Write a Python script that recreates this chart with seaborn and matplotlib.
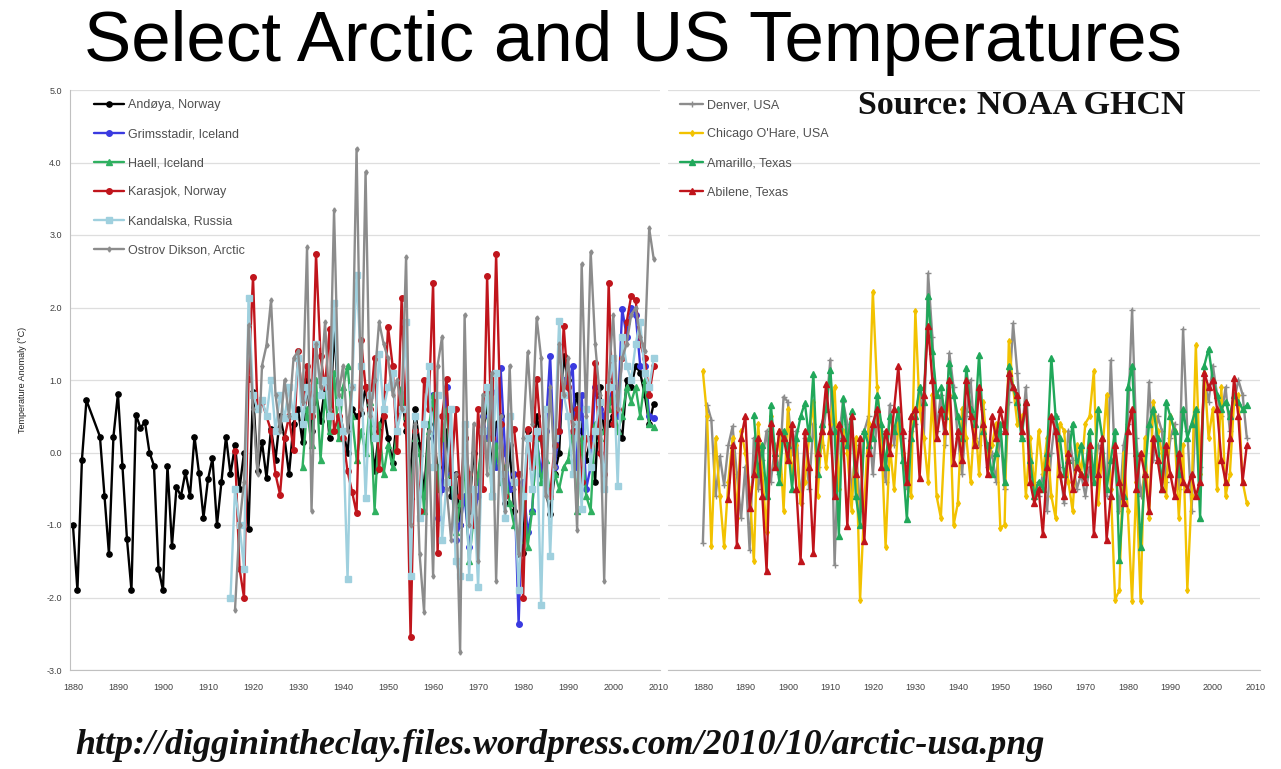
import numpy as np
import pandas as pd
import matplotlib
matplotlib.use("Agg")
import matplotlib.pyplot as plt
import seaborn as sns

# Arctic stations (left panel), anomalies in deg C, first year given separately
andoya_start = 1880
andoya = [-1.0, -1.9, -0.1, 0.72, np.nan, np.nan, 0.22, -0.6, -1.4, 0.22,
          0.81, -0.19, -1.19, -1.9, 0.52, 0.34, 0.42, 0.0, -0.18, -1.6,
          -1.9, -0.18, -1.29, -0.48, -0.6, -0.27, -0.6, 0.22, -0.28, -0.9,
          -0.37, -0.08, -1.0, -0.4, 0.22, -0.3, 0.1, -0.5, 0.0, -1.05,
          0.84, -0.26, 0.14, -0.35, 0.33, -0.1, 0.5, 0.2, -0.3, 0.4,
          0.6, 0.14, 1.0, 0.3, 0.8, 0.44, 0.9, 0.2, 1.72, 0.7,
          0.3, 0.0, 0.6, 0.5, 0.55, 0.9, 0.4, -0.26, 0.3, 0.59,
          0.2, -0.14, 0.5, 0.84, 0.3, -0.3, 0.6, 0.1, -0.6, 0.4,
          0.2, -0.2, -0.5, 0.3, -0.6, -0.3, -1.0, 0.2, -0.8, 0.0,
          -0.5, 0.3, 0.6, -0.2, 0.4, 0.5, -0.7, 0.1, -0.8, -1.4,
          -1.38, 0.3, -0.2, 0.5, 0.2, -0.5, -0.85, -0.3, 0.0, 1.33,
          1.0, 0.5, 0.8, 0.3, -0.1, 0.2, -0.4, 0.9, 0.3, 0.4,
          0.5, 0.3, 0.2, 1.0, 0.9, 1.2, 1.1, 0.8, 0.4, 0.67]

grims_start = 1960
grims = [0.8, -0.9, -0.5, 0.9, -0.3, -1.2, -1.0, -0.6, -1.3, -0.9,
         -0.6, 0.5, 0.2, 0.83, -0.2, 1.17, 0.0, -0.5, -0.3, -2.37,
         -0.4, -1.1, -0.8, 0.2, -0.3, 0.3, 1.33, -0.2, 0.3, 1.0,
         0.9, 1.2, -0.3, 0.8, -0.5, -0.2, 0.9, 0.6, 0.5, 0.7,
         0.9, 0.5, 1.98, 1.6, 2.0, 1.9, 1.2, 1.2, 0.5, 0.48]

haell_start = 1931
haell = [-0.2, 0.6, 0.1, 1.0, -0.1, 0.8, 0.3, 1.1, 0.2,
         0.9, 1.2, 0.5, -0.1, 0.3, 0.0, 0.7, -0.8, 0.4, -0.3,
         0.1, -0.2, 0.3, 0.9, 0.5, -0.6, 0.2, 0.0, -0.8, 0.3,
         0.8, -0.5, 0.2, 0.6, -0.3, -1.1, -0.7, -0.2, -1.5, -0.9,
         -0.3, 0.2, 0.9, -0.6, 0.1, -0.4, -0.2, -0.7, -1.0, -1.2,
         -0.5, -1.3, -0.8, 0.2, -0.4, -0.1, -0.6, -0.3, -0.5, -0.2,
         -0.1, 0.3, -0.8, 0.2, -0.6, -0.8, 0.4, 0.2, 0.3, 0.6,
         0.8, 0.3, 0.5, 0.9, 0.7, 0.9, 0.5, 1.0, 0.4, 0.35]

karasjok_start = 1916
karasjok = [0.02, -1.6, -2.0, 1.02,
            2.42, 0.6, 0.7, 0.5, 0.3, -0.3, -0.58, 0.2, 0.5, 0.03,
            1.4, 0.7, 1.2, 0.5, 2.74, 1.33, 0.9, 1.7, 0.3, 0.5,
            0.2, -0.26, -0.54, -0.84, 1.55, 0.9, 0.6, 1.3, -0.23, 0.5,
            1.73, 1.2, 0.02, 2.13, 0.4, -2.55, 0.3, -0.8, 1.0, 0.6,
            2.34, -1.38, 0.5, 1.01, -0.4, 0.6, -0.6, 0.2, -0.3, -1.0,
            0.6, -0.5, 2.43, 0.2, 2.74, 0.4, -0.6, 0.3, 0.32, -0.3,
            -2.0, 0.32, -0.2, 1.01, 0.2, -0.5, -0.6, 0.1, 0.3, 1.75,
            0.9, 0.3, 0.6, -0.4, 0.2, 0.1, 1.24, 0.0, -0.3, 2.34,
            0.4, 0.6, 1.3, 1.8, 2.16, 2.1, 1.5, 1.3, 0.8, 1.2]

kandal_start = 1915
kandal = [-2.01, -0.5, -1.0, -1.6, 2.13,
          0.8, 0.6, 0.73, 0.5, 1.0, 0.3, 0.8, 0.47, 0.9, 0.5,
          1.3, 0.4, 0.9, 0.6, 1.5, 0.8, 1.0, 0.5, 2.06, 0.7,
          0.3, -1.75, 0.9, 2.45, 1.2, -0.63, 0.8, 0.2, 1.36, 0.6,
          0.9, 1.1, 0.3, 0.6, 1.8, -1.71, 0.5, -0.9, 0.4, 1.19,
          -0.2, 0.8, -1.2, -0.4, 0.6, -1.5, -1.7, 0.4, -1.72, -0.5,
          -1.86, 0.3, 0.9, -0.6, 1.1, -0.3, -0.9, 0.5, -0.4, -1.9,
          -0.6, 0.2, -0.5, 0.3, -2.11, 0.6, -1.43, 0.2, 1.82, 0.8,
          0.5, -0.3, 0.4, -0.78, 0.6, -0.2, 0.3, 0.7, -0.5, 0.9,
          1.3, -0.46, 1.6, 1.2, 1.0, 1.5, 1.8, 1.1, 0.9, 1.3]

dikson_start = 1916
dikson = [-2.17, -1.0, -0.4, 1.76,
          0.6, -0.3, 1.2, 1.48, 2.1, 0.8, 0.3, 1.0, 0.5, 1.3,
          1.4, 0.7, 2.83, -0.8, 1.5, 0.9, 1.8, 0.6, 3.34, 0.8,
          1.2, 0.3, 0.9, 4.19, 0.6, 3.87, 0.5, 1.0, 1.8, 1.5,
          1.3, 0.8, 1.0, 0.6, 2.7, -1.0, 0.4, -1.4, -2.2, 0.3,
          -1.7, 1.2, 1.6, -0.5, -1.2, -0.3, -2.75, 1.9, -1.0, 0.4,
          -1.5, 0.8, -0.3, 1.1, -1.77, 0.5, -0.8, 1.2, -0.5, -1.4,
          0.2, 1.38, 0.4, 1.86, 1.3, -0.6, 0.9, -0.2, 1.5, 0.8,
          1.3, 0.4, -1.07, 2.6, 0.5, 2.77, 1.5, 0.8, -1.77, 1.0,
          1.9, 0.6, 1.3, 1.5, 1.9, 2.0, 1.6, 1.4, 3.09, 2.67]

# US stations (right panel)
denver_start = 1880
denver = [-1.25, 0.66, 0.45, -0.6, -0.05, -0.45, 0.1, 0.36, -0.3, -0.9,
          -0.2, -1.34, 0.2, -0.5, -0.1, 0.3, -0.4, 0.1, -0.3, 0.77,
          0.7, 0.0, 0.3, -0.7, 0.2, -0.5, 0.4, -0.2, 0.1, 0.6,
          1.28, -1.55, 0.2, 0.7, 0.4, -0.6, 0.1, -0.8, 0.3, 0.5,
          -0.3, 0.5, 0.3, -0.4, 0.66, 0.1, 0.6, 0.2, -0.5, 0.3,
          0.4, 0.9, 0.2, 2.47, 1.6, 0.3, 0.8, 0.1, 1.37, 0.9,
          0.2, -0.3, 0.5, 1.0, 0.2, 0.1, 0.6, -0.2, 0.0, -0.4,
          0.3, -0.5, 0.7, 1.78, 1.1, 0.2, 0.9, 0.0, -0.4, -0.6,
          -0.3, -0.8, 0.0, 0.5, -0.2, -0.7, 0.3, -0.1, -0.5, -0.3,
          -0.6, -0.2, -0.4, 0.1, 0.0, -0.6, 1.27, -0.2, -0.8, 0.1,
          0.4, 1.97, 0.2, -0.6, -0.3, 0.97, -0.1, 0.5, 0.3, -0.4,
          0.2, 0.4, -0.5, 1.7, 0.3, -0.8, 0.6, -0.2, 1.0, 0.7,
          1.2, 0.8, 0.5, 0.9, 0.3, 0.7, 1.0, 0.8, 0.2]

chicago_start = 1880
chicago = [1.12, 0.5, -1.29, 0.2, -0.6, -1.29, -0.4, 0.2, -0.9, 0.3,
           0.0, -0.5, -1.5, 0.4, -0.3, -1.1, 0.5, -0.2, 0.3, -0.8,
           0.6, -0.3, 0.1, -0.7, -0.4, 0.2, 0.7, -0.6, 0.3, -0.2,
           0.4, 0.9, -0.5, 0.3, 0.0, -0.8, 0.2, -2.03, -0.7, 0.4,
           2.22, 0.9, 0.2, -1.3, 0.1, -0.5, 0.4, 0.0, -0.3, -0.6,
           1.95, 0.6, 0.2, -0.4, 0.8, -0.6, -0.9, 0.3, 0.8, -1.0,
           -0.7, 0.6, 0.2, -0.4, 0.5, -0.3, 0.7, -0.2, 0.1, 0.4,
           -1.04, -1.0, 1.54, 0.9, 0.4, 0.5, -0.6, 0.2, -0.5, 0.3,
           -0.3, 0.2, -0.6, -0.9, 0.4, 0.3, -0.4, -0.8, 0.1, -0.3,
           0.4, 0.5, 1.12, -0.7, 0.0, 0.8, -0.5, -2.03, -1.9, 0.0,
           -0.8, -2.05, -0.4, -2.05, 0.2, -0.9, 0.7, 0.3, 0.0, -0.6,
           0.5, 0.3, -0.9, 0.1, -1.89, -0.6, 1.48, -0.3, 1.1, 0.2,
           0.6, -0.5, 0.9, -0.6, -0.3, 0.7, 0.8, -0.4, -0.7]

amarillo_start = 1892
amarillo = [0.52, -0.3, 0.1, -0.6, 0.66, 0.0, -0.4, 0.3,
            0.1, -0.5, 0.2, 0.5, 0.68, 0.2, 1.08, -0.3, 0.4, 0.6,
            1.14, 0.3, -1.15, 0.75, 0.1, 0.57, -0.6, -1.0, 0.3, 0.1,
            0.2, 0.8, 0.4, -0.2, 0.5, 0.3, 0.6, -0.1, -0.92, 0.2,
            0.5, 0.9, 0.7, 2.16, 1.4, 0.8, 0.9, 0.5, 1.24, 0.8,
            0.5, 0.2, 1.17, 0.6, 0.4, 1.35, 0.3, 0.1, -0.3, 0.0,
            0.4, -0.4, 1.2, 0.9, 0.7, 0.2, 0.7, -0.1, -0.6, -0.4,
            -0.5, 0.0, 1.31, 0.5, 0.2, -0.3, -0.1, 0.4, -0.2, 0.1,
            -0.3, 0.3, -0.4, 0.6, 0.2, -0.5, -0.1, 0.3, -1.48, -0.6,
            0.9, 1.2, 0.0, -1.31, -0.3, 0.4, 0.6, 0.2, -0.5, 0.7,
            0.5, 0.3, -0.3, 0.6, 0.2, 0.4, 0.6, -0.9, 1.2, 1.43,
            1.0, 0.8, 0.6, 0.7, 0.5, 0.8, 0.7, 0.6, 0.65]

abilene_start = 1886
abilene = [-0.64, 0.1, -1.27, 0.2,
           0.5, -0.76, -0.3, 0.2, -0.6, -1.64, 0.41, -0.2, 0.3, 0.2,
           -0.1, 0.4, -0.5, -1.5, 0.3, -0.2, -1.38, 0.0, 0.3, 0.94,
           0.3, -0.6, 0.4, 0.2, -1.02, 0.5, -0.3, 0.2, -1.22, 0.0,
           0.4, 0.6, -0.2, 0.3, 0.0, 0.6, 1.19, 0.3, -0.4, 0.5,
           0.6, -0.35, 0.8, 1.74, 1.0, 0.2, 0.6, 0.3, 1.0, -0.14,
           0.3, -0.1, 1.0, 0.5, 0.1, 0.9, 0.4, -0.3, 0.5, 0.2,
           0.6, 0.3, 1.1, 0.9, 0.8, 0.3, 0.7, -0.4, -0.7, -0.5,
           -1.13, -0.2, 0.5, 0.3, -0.3, -0.6, 0.0, -0.5, -0.2, -0.3,
           -0.4, 0.1, -1.12, -0.3, 0.2, -1.2, -0.6, 0.1, -0.4, -0.7,
           0.3, 0.6, -0.5, 0.0, -0.3, -0.8, 0.2, -0.1, -0.5, 0.1,
           -0.3, -0.6, 0.0, -0.4, -0.5, -0.3, -0.6, -0.4, 1.1, 0.9,
           1.0, 0.6, -0.1, -0.4, 0.2, 1.03, 0.5, -0.4, 0.1]

year_ticks = list(range(1880, 2011, 10))
y_ticks = [5.0, 4.0, 3.0, 2.0, 1.0, 0.0, -1.0, -2.0, -3.0]

# (label, start, values, colour, marker, markersize)
left_series = [
    ("Andøya, Norway", andoya_start, andoya, "#000000", "o", 3.8),
    ("Grimsstadir, Iceland", grims_start, grims, "#3a3ae0", "o", 4.0),
    ("Haell, Iceland", haell_start, haell, "#2fb060", "^", 3.8),
    ("Karasjok, Norway", karasjok_start, karasjok, "#c0151c", "o", 4.0),
    ("Kandalska, Russia", kandal_start, kandal, "#9fd0de", "s", 3.8),
    ("Ostrov Dikson, Arctic", dikson_start, dikson, "#8c8c8c", "d", 2.6),
]
right_series = [
    ("Denver, USA", denver_start, denver, "#8c8c8c", "+", 4.0),
    ("Chicago O'Hare, USA", chicago_start, chicago, "#f2c200", "d", 3.0),
    ("Amarillo, Texas", amarillo_start, amarillo, "#20a85a", "^", 3.8),
    ("Abilene, Texas", abilene_start, abilene, "#c0141b", "^", 3.8),
]

sns.set_style("white")
plt.rcParams['font.family'] = ['Liberation Sans', 'DejaVu Sans']

fig = plt.figure(figsize=(12.81, 7.69), dpi=100)
ax1 = fig.add_axes([70 / 1281, 1 - 670 / 769, 590 / 1281, 580 / 769])
ax2 = fig.add_axes([668 / 1281, 1 - 670 / 769, 592 / 1281, 580 / 769])


def draw(ax, series):
    for label, start, vals, col, mk, ms in series:
        df = pd.DataFrame({"year": start + np.arange(len(vals)), "anom": vals})
        sns.lineplot(data=df, x="year", y="anom", ax=ax, color=col, lw=1.7,
                     marker=mk, markersize=ms, markeredgecolor=col,
                     markeredgewidth=1.0, label=label, errorbar=None,
                     estimator=None)


draw(ax1, left_series)
draw(ax2, right_series)

for ax in (ax1, ax2):
    ax.set_ylim(-3.0, 5.0)
    ax.set_yticks(y_ticks)
    ax.yaxis.grid(True, color="#dedede", lw=0.9)
    ax.set_axisbelow(True)
    ax.set_xticks(year_ticks)
    ax.set_xticklabels([str(y) for y in year_ticks], fontsize=6.5, color="#404040")
    ax.tick_params(axis="x", length=3, color="#c0c0c0", pad=6)
    ax.set_xlabel("")
    ax.set_ylabel("")
    for s in ("top", "right"):
        ax.spines[s].set_visible(False)
    ax.spines["bottom"].set_color("#c0c0c0")

ax1.set_xlim(1879.35, 2010.4)
ax2.set_xlim(1871.8, 2011.1)

ax1.set_yticklabels([f"{v:.1f}" for v in y_ticks], fontsize=6.5, color="#404040")
ax1.tick_params(axis="y", length=0, pad=6)
ax1.spines["left"].set_color("#c0c0c0")
ax1.set_ylabel("Temperature Anomaly (°C)", fontsize=6.5, color="#202020", labelpad=14)

ax2.spines["left"].set_visible(False)
ax2.set_yticklabels([])
ax2.tick_params(axis="y", length=0)

leg_kw = dict(frameon=False, fontsize=9, labelspacing=1.36,
              handletextpad=0.3, borderaxespad=0.0, borderpad=0.75, labelcolor="#505050")
ax1.legend(loc="upper left", bbox_to_anchor=(0.025, 1.0), handlelength=2.4, **leg_kw)
ax2.legend(loc="upper left", bbox_to_anchor=(0.004, 1.0), handlelength=1.9, **leg_kw)

fig.text(0.494, 0.944, "Select Arctic and US Temperatures", ha="center", va="center",
         fontsize=51, color="black", family="Liberation Sans")
fig.text(858 / 1281, 1 - 106 / 769, "Source: NOAA GHCN", ha="left", va="center",
         fontsize=24.5, fontweight="bold", family="Liberation Serif", color="#111111")
fig.text(75 / 1281, 1 - 745 / 769,
         "http://digginintheclay.files.wordpress.com/2010/10/arctic-usa.png",
         ha="left", va="center", fontsize=25.8, fontweight="bold", fontstyle="italic",
         family="Liberation Serif", color="#111111")

fig.savefig("out.png", dpi=100)
